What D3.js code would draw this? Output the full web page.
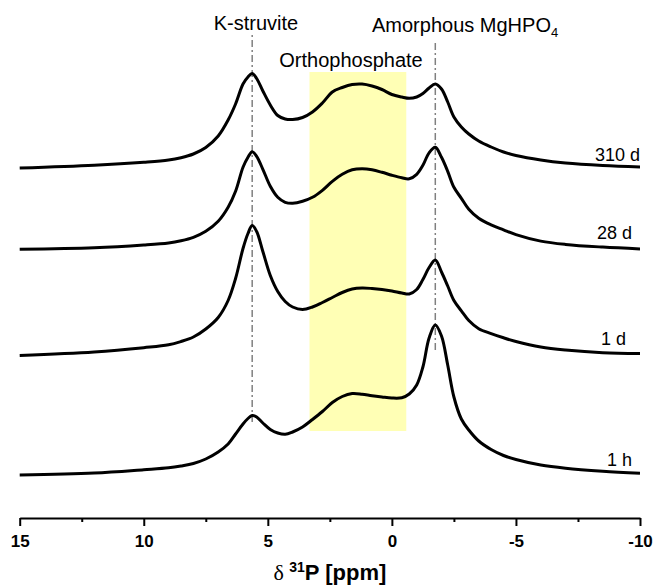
<!DOCTYPE html>
<html>
<head>
<meta charset="utf-8">
<script src="https://cdn.jsdelivr.net/npm/d3@7"></script>
<style>
  html, body { margin: 0; padding: 0; background: #fff; }
  svg { display: block; font-family: 'Liberation Sans', Arial, sans-serif; }
</style>
</head>
<body>
<div id="chart"></div>
<script>
// chemical shift grid (ppm), shared by all four spectra
const ppm = [15, 12, 10, 9, 8.5, 8, 7.5, 7, 6.6, 6.3, 6.0, 5.8,
  5.63, 5.45, 5.2, 4.9, 4.6, 4.3, 4.0,
  3.6, 3.2, 2.8, 2.4, 2.0, 1.6, 1.2, 0.8, 0.4, 0,
  -0.4, -0.7, -1.0, -1.25, -1.5, -1.75, -2.0, -2.25, -2.5,
  -2.8, -3.1, -3.5, -4, -4.5, -5, -6, -7, -8.5, -10]

// intensities above each spectrum's own baseline
const int310d = [0, 2.8, 5.8, 8, 10.3, 14, 20.5, 32, 48, 64, 84, 91,
  94.5, 89.5, 77, 63, 52.5, 49, 48.5,
  50.5, 56, 65, 76, 80.5, 83.5, 84, 82, 78.5, 73.5,
  71, 69.7, 71, 74.5, 80, 84, 79, 66, 51,
  41, 34, 27, 21, 16, 12.5, 8, 5, 2.5, 1]
const int28d = [0, 1.5, 4.3, 6.4, 8.6, 12, 18, 28, 42, 58, 82, 92,
  97.6, 93, 80, 63, 52, 47, 46,
  48, 52, 59, 68, 75, 79.5, 80.5, 79.5, 77, 74,
  71.5, 70.5, 75, 84, 96.5, 102, 92, 78, 62,
  51, 40, 31, 24.4, 19.5, 14.7, 8.2, 4.9, 2.2, 0.3]
const int1d = [0, 3.5, 7.8, 10.7, 14, 18.5, 26.5, 38, 55, 77, 107, 122,
  130, 124, 104, 80, 64, 54, 48.5,
  46, 48.5, 53, 58, 63, 66.5, 67.5, 67, 66, 64.5,
  62.5, 61.5, 66, 76, 88, 95.5, 83.5, 69.5, 55,
  44.7, 35, 26.8, 21.9, 17.7, 14, 8.5, 5.5, 2.8, 2]
const int1h = [0, 2, 5.3, 7.2, 9, 11.5, 16, 23, 31, 41, 51, 56.5,
  59.5, 58, 52, 45.5, 42, 40.7, 43,
  48, 55.5, 63.5, 72.5, 78.5, 81.5, 80.8, 79.2, 78, 77,
  77.3, 81, 90, 108, 137, 150, 139, 110, 78,
  56, 45, 34, 25.5, 19.5, 15.5, 10, 6.8, 3.8, 1.7]

const seriesNames = ['310 d', '28 d', '1 d', '1 h']
const seriesValues = [int310d, int28d, int1d, int1h]
const seriesOffsets = [350, 268.7, 162.5, 43]

const majorTicks = [15, 10, 5, 0, -5, -10]
const minorTicks = [12.5, 7.5, 2.5, -2.5, -7.5]

// reference lines: [ppm, bottom, top] in intensity units
const refLines = [[5.63, 96, 485], [-1.75, 168, 478]]
const orthoRange = [3.32, -0.58]
const orthoHeight = [87, 446]

const width = 656
const height = 587

const svg = d3.select('#chart')
  .append('svg')
  .attr('width', width)
  .attr('height', height)

const x = d3.scaleLinear()
  .domain([15, -10])
  .range([19.7, 640])

const y = d3.scaleLinear()
  .domain([0, 500])
  .range([518, 18])

// orthophosphate band
svg.append('rect')
  .attr('x', x(orthoRange[0]))
  .attr('y', y(orthoHeight[1]))
  .attr('width', x(orthoRange[1]) - x(orthoRange[0]))
  .attr('height', y(orthoHeight[0]) - y(orthoHeight[1]))
  .attr('fill', '#ffffb5')

// dash-dot guide lines
svg.selectAll('.ref')
  .data(refLines)
  .join('line')
  .attr('class', 'ref')
  .attr('x1', d => x(d[0]))
  .attr('x2', d => x(d[0]))
  .attr('y1', d => y(d[1]))
  .attr('y2', d => y(d[2]))
  .attr('stroke', '#808080')
  .attr('stroke-width', 1.5)
  .attr('stroke-dasharray', '7,3,2,3')

const line = d3.line()
  .x(d => x(d[0]))
  .y(d => y(d[1]))
  .curve(d3.curveCatmullRom.alpha(0.5))

svg.selectAll('.spectrum')
  .data(seriesValues.map((vals, i) => vals.map((v, j) => [ppm[j], v + seriesOffsets[i]])))
  .join('path')
  .attr('class', 'spectrum')
  .attr('d', line)
  .attr('fill', 'none')
  .attr('stroke', '#000')
  .attr('stroke-width', 3)
  .attr('stroke-linejoin', 'round')

// spectrum labels
const labelPos = [[640, 161], [632, 239.3], [626, 345], [632, 466]]
svg.selectAll('.name')
  .data(seriesNames)
  .join('text')
  .attr('class', 'name')
  .attr('x', (d, i) => labelPos[i][0])
  .attr('y', (d, i) => labelPos[i][1])
  .attr('text-anchor', 'end')
  .attr('font-size', 18)
  .text(d => d)

// peak annotations
svg.append('text')
  .attr('x', 256)
  .attr('y', 30)
  .attr('text-anchor', 'middle')
  .attr('font-size', 20)
  .text('K-struvite')

svg.append('text')
  .attr('x', 351)
  .attr('y', 66.7)
  .attr('text-anchor', 'middle')
  .attr('font-size', 20)
  .text('Orthophosphate')

const amo = svg.append('text')
  .attr('x', 372)
  .attr('y', 32.3)
  .attr('font-size', 20)
amo.append('tspan').text('Amorphous MgHPO')
amo.append('tspan').attr('font-size', 13).attr('dy', 5).text('4')

// x axis
const axis = svg.append('g')
  .attr('transform', `translate(0, ${y(0)})`)
  .call(d3.axisBottom(x)
    .tickValues(majorTicks)
    .tickSize(8)
    .tickSizeOuter(0)
    .tickPadding(9)
    .tickFormat(d => String(d)))

axis.select('.domain').attr('stroke-width', 2)
axis.selectAll('.tick line').attr('stroke-width', 2)
axis.selectAll('.tick text')
  .attr('font-size', 17)
  .attr('font-weight', 'bold')
  .attr('font-family', "'Liberation Sans', Arial, sans-serif")
  .attr('fill', '#000')

const minor = svg.append('g')
  .attr('transform', `translate(0, ${y(0)})`)
  .call(d3.axisBottom(x)
    .tickValues(minorTicks)
    .tickSize(4)
    .tickSizeOuter(0)
    .tickFormat(''))

minor.select('.domain').remove()
minor.selectAll('.tick line').attr('stroke-width', 2)

const title = svg.append('text')
  .attr('x', (x(15) + x(-10)) / 2)
  .attr('y', 580)
  .attr('text-anchor', 'middle')
  .attr('font-size', 22)
  .attr('font-weight', 'bold')
title.append('tspan')
  .attr('font-family', "'Liberation Serif', serif")
  .attr('font-weight', 'normal')
  .text('δ ')
title.append('tspan').attr('font-size', 14).attr('dy', -8).text('31')
title.append('tspan').attr('dy', 8).text('P [ppm]')
</script>
</body>
</html>
